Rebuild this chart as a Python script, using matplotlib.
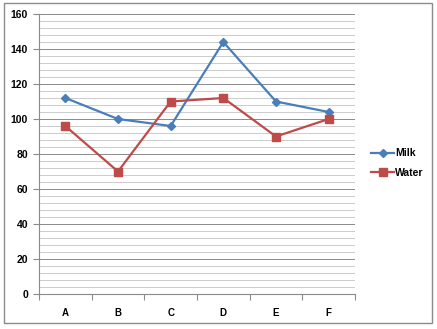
import matplotlib
matplotlib.use('Agg')
import matplotlib.pyplot as plt
from matplotlib.patches import Rectangle
from matplotlib.ticker import MultipleLocator

categorias = ['A', 'B', 'C', 'D', 'E', 'F']
milk = [112, 100, 96, 144, 110, 104]
water = [96, 70, 110, 112, 90, 100]

plt.rcParams['font.family'] = ['Liberation Sans', 'DejaVu Sans']

fig = plt.figure(figsize=(4.37, 3.29), dpi=100)
fig.patches.append(Rectangle((4/437, 1-323/329), 428/437, 320/329, transform=fig.transFigure,
                             fill=False, edgecolor='#8c8c8c', linewidth=1.0))
ax = fig.add_axes([39/437, 1-294/329, 316/437, 280/329])

x = list(range(len(categorias)))
ax.plot(x, milk, color='#4A7EBB', marker='D', markersize=4, linewidth=1.6, label='Milk')
ax.plot(x, water, color='#BE4B48', marker='s', markersize=5.5, linewidth=1.6, label='Water')

ax.set_xlim(-0.5, len(categorias) - 0.5)
ax.set_ylim(0, 160)
ax.yaxis.set_major_locator(MultipleLocator(20))
ax.yaxis.set_minor_locator(MultipleLocator(4))
ax.grid(which='major', axis='y', color='#8a8a8a', linewidth=0.7)
ax.grid(which='minor', axis='y', color='#cccccc', linewidth=0.7)
ax.set_axisbelow(True)

ax.set_xticks([i - 0.5 for i in range(len(categorias) + 1)], minor=False)
ax.set_xticklabels([])
ax.set_xticks(x, minor=True)
ax.set_xticklabels(categorias, minor=True, fontsize=7, fontweight='bold')
ax.tick_params(axis='x', which='major', length=4, color='#8a8a8a', direction='out')
ax.tick_params(axis='x', which='minor', length=0, pad=10)
ax.tick_params(axis='y', which='major', length=4, color='#8a8a8a', labelsize=7.5, pad=4)
ax.tick_params(axis='y', which='minor', length=0)
for t in ax.get_yticklabels():
    t.set_fontweight('bold')

for s in ['top', 'right']:
    ax.spines[s].set_visible(False)
for s in ['left', 'bottom']:
    ax.spines[s].set_color('#8a8a8a')

leg = fig.legend(loc='center left', bbox_to_anchor=(362/437, 1-163/329), frameon=False,
                 handlelength=2.2, handletextpad=0.1, labelspacing=0.9,
                 prop={'weight': 'bold', 'size': 7.5})

fig.savefig('out.png', dpi=100)
